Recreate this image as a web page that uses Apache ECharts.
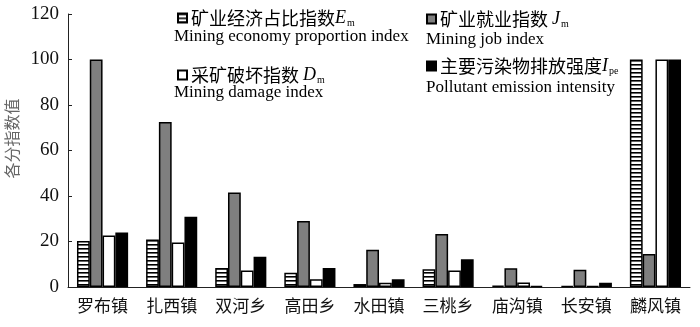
<!DOCTYPE html>
<html>
<head>
<meta charset="utf-8">
<script src="https://cdn.jsdelivr.net/npm/echarts@6/dist/echarts.min.js"></script>
<style>
  html, body { margin: 0; padding: 0; background: #fff; }
  #chart { width: 700px; height: 327px; }
</style>
</head>
<body>
<div id="chart"></div>
<script>
// Towns along the category axis
const categories = ['罗布镇', '扎西镇', '双河乡', '高田乡', '水田镇', '三桃乡', '庙沟镇', '长安镇', '麟风镇'];

// Sub-index values per town
const economyIdx  = [20.2, 20.9, 8.3, 6.3, 1.3, 7.8, 0.6, 0.5, 100];
const jobIdx      = [100, 72.5, 41.5, 29.0, 16.4, 23.3, 8.2, 7.6, 14.5];
const damageIdx   = [22.6, 19.6, 7.2, 3.4, 1.9, 7.2, 2.0, 0.4, 100];
const emissionIdx = [24.0, 30.9, 13.3, 8.3, 3.4, 12.2, 0.5, 1.9, 100];

// Y-axis ticks
const yTicks = [0, 20, 40, 60, 80, 100, 120];

// Horizontal hatch fill for the economy index bars
const hatch = document.createElement('canvas');
hatch.width = 4; hatch.height = 4;
(function () {
  const c = hatch.getContext('2d');
  c.fillStyle = '#fff'; c.fillRect(0, 0, 4, 4);
  c.fillStyle = '#000'; c.fillRect(0, 0, 4, 1);
  c.fillStyle = '#666'; c.fillRect(0, 1, 4, 1);
})();

const serif = '"Liberation Serif", "Times New Roman", serif';
const cjk = '"Noto Sans CJK SC", sans-serif';

const legendRich = {
  v: { fontFamily: serif, fontStyle: 'italic', fontSize: 18, color: '#000', lineHeight: 20 },
  s: { fontFamily: serif, fontSize: 10, color: '#000', verticalAlign: 'bottom', lineHeight: 20, padding: [7, 0, 0, 1] }
};

const legendLabels = {
  Em: '矿业经济占比指数{v|E}{s|m}',
  Jm: '矿业就业指数 {v|J}{s|m}',
  Dm: '采矿破坏指数 {v|D}{s|m}',
  Ipe: '主要污染物排放强度{v|I}{s|pe}'
};

function legendAt(name, left, top) {
  return {
    data: [name],
    left: left, top: top,
    orient: 'horizontal',
    icon: 'rect',
    itemWidth: 9, itemHeight: 9, itemGap: 0,
    padding: 0,
    selectedMode: false,
    formatter: n => legendLabels[n],
    textStyle: { fontFamily: cjk, fontSize: 18, color: '#000', lineHeight: 20, padding: [0, 0, 0, -1], rich: legendRich }
  };
}

function subline(text, left, top) {
  return { type: 'text', left: left, top: top, style: { text: text, font: '17px ' + serif, fill: '#000' } };
}

const barBorder = { borderColor: '#000', borderWidth: 1.5 };

const chart = echarts.init(document.getElementById('chart'), null, { renderer: 'canvas' });

chart.setOption({
  animation: false,
  backgroundColor: '#fff',
  grid: { left: 68, right: 10, top: 14, bottom: 40, containLabel: false, outerBoundsMode: 'none' },
  legend: [
    legendAt('Em', 177, 8),
    legendAt('Jm', 426, 9),
    legendAt('Dm', 177, 65),
    legendAt('Ipe', 426, 56)
  ],
  graphic: [
    subline('Mining economy proportion index', 174, 28),
    subline('Mining job index', 426, 31),
    subline('Mining damage index', 174, 84),
    subline('Pollutant emission intensity', 426, 79)
  ],
  xAxis: {
    type: 'category',
    data: categories,
    axisLine: { show: true, lineStyle: { color: '#222', width: 1 } },
    axisTick: { show: false },
    axisLabel: { fontFamily: cjk, fontSize: 17, color: '#111', margin: 10 }
  },
  yAxis: {
    type: 'value',
    min: yTicks[0], max: yTicks[yTicks.length - 1], interval: 20,
    name: '各分指数值',
    nameLocation: 'middle',
    nameGap: 39,
    nameRotate: 90,
    nameTextStyle: { fontFamily: cjk, fontSize: 16, color: '#666', padding: [0, 0, 0, 24] },
    axisLine: { show: true, lineStyle: { color: '#222', width: 1 } },
    axisTick: { show: true, inside: true, length: 4, lineStyle: { color: '#222' } },
    axisLabel: { fontFamily: serif, fontSize: 19, color: '#111', margin: 9 },
    splitLine: { show: false }
  },
  series: [
    { name: 'Em', type: 'bar', data: economyIdx, barGap: '0%', barCategoryGap: '26%',
      itemStyle: Object.assign({ color: { image: hatch, repeat: 'repeat' } }, barBorder) },
    { name: 'Jm', type: 'bar', data: jobIdx, barGap: '0%', barCategoryGap: '26%',
      itemStyle: Object.assign({ color: '#7f7f7f' }, barBorder) },
    { name: 'Dm', type: 'bar', data: damageIdx, barGap: '0%', barCategoryGap: '26%',
      itemStyle: Object.assign({ color: '#fff' }, barBorder) },
    { name: 'Ipe', type: 'bar', data: emissionIdx, barGap: '0%', barCategoryGap: '26%',
      itemStyle: Object.assign({ color: '#000' }, barBorder) }
  ]
});
</script>
</body>
</html>
